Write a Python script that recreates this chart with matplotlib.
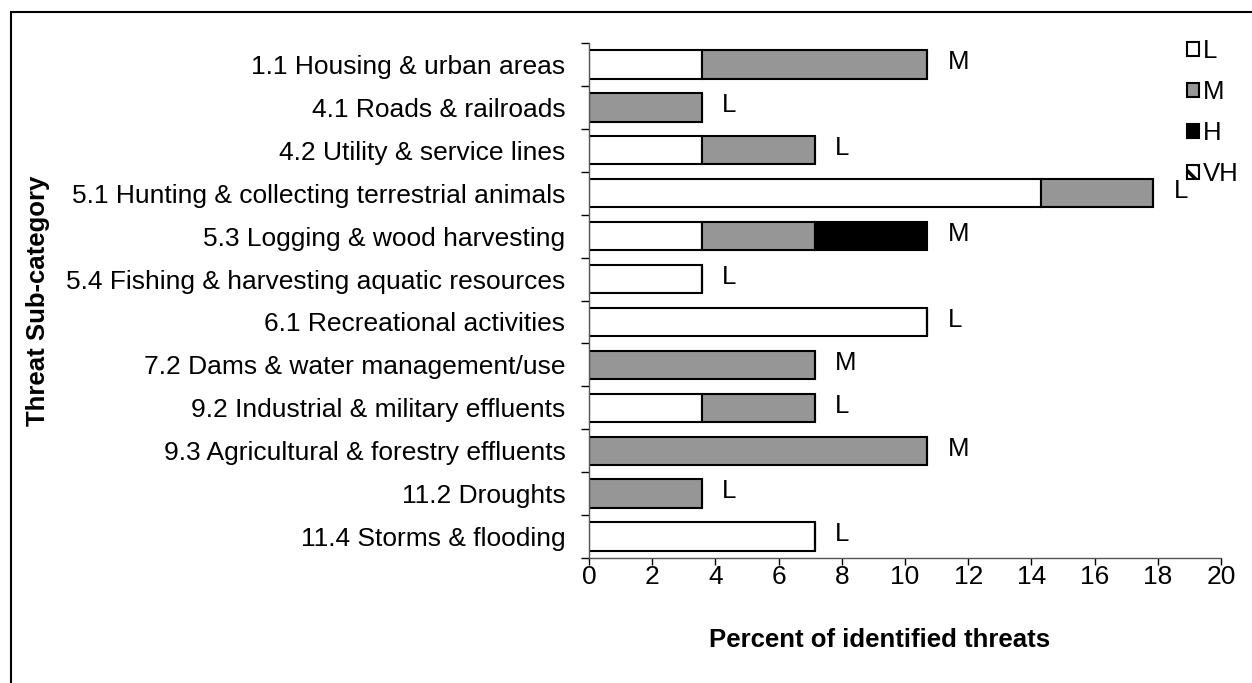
import numpy as np
import matplotlib.pyplot as plt
from matplotlib.patches import Patch, Rectangle

plt.rcParams['font.family'] = ['Liberation Sans', 'DejaVu Sans']
plt.rcParams['hatch.linewidth'] = 2.5

# Threat sub-categories (top to bottom)
categories = ['1.1 Housing & urban areas', '4.1 Roads & railroads',
              '4.2 Utility & service lines',
              '5.1 Hunting & collecting terrestrial animals',
              '5.3 Logging & wood harvesting',
              '5.4 Fishing & harvesting aquatic resources',
              '6.1 Recreational activities',
              '7.2 Dams & water management/use',
              '9.2 Industrial & military effluents',
              '9.3 Agricultural & forestry effluents',
              '11.2 Droughts', '11.4 Storms & flooding']

# percent of identified threats by impact level
low = [3.57, 0, 3.57, 14.29, 3.57, 3.57, 10.71, 0, 3.57, 0, 0, 7.14]
medium = [7.14, 3.57, 3.57, 3.57, 3.57, 0, 0, 7.14, 3.57, 10.71, 3.57, 0]
high = [0, 0, 0, 0, 3.57, 0, 0, 0, 0, 0, 0, 0]
very_high = [0] * 12
overall = ['M', 'L', 'L', 'L', 'M', 'L', 'L', 'M', 'L', 'M', 'L', 'L']

low = np.array(low)
medium = np.array(medium)
high = np.array(high)
very_high = np.array(very_high)

fs = 19
fig = plt.figure(figsize=(12.52, 6.83), dpi=100)
ax = fig.add_axes([589 / 1252, 1 - 558 / 683, (1221 - 589) / 1252, (558 - 43) / 683])

y = np.arange(len(categories))
h = 0.66
kw = dict(height=h, edgecolor='black', linewidth=1.5)
ax.barh(y, low, color='white', **kw)
ax.barh(y, medium, left=low, color='#969696', **kw)
ax.barh(y, high, left=low + medium, color='black', **kw)

totals = low + medium + high + very_high
for yi, t, lab in zip(y, totals, overall):
    ax.text(t + 0.65, yi - 0.05, lab, va='center', ha='left', fontsize=18.5)

ax.set_ylim(len(categories) - 0.5, -0.5)
ax.set_xlim(0, 20)
ax.set_xticks(np.arange(0, 21, 2))
ax.set_yticks(y)
ax.set_yticklabels(categories, fontsize=fs)
ax.set_yticks(np.arange(-0.5, len(categories)), minor=True)
ax.tick_params(axis='y', which='major', length=0, pad=17)
ax.tick_params(axis='y', which='minor', length=6, width=1, direction='out')
ax.tick_params(axis='x', labelsize=fs, length=5, width=1, pad=0)
for s in ['top', 'right']:
    ax.spines[s].set_visible(False)
for s in ['left', 'bottom']:
    ax.spines[s].set_color('#555555')
    ax.spines[s].set_linewidth(1)

ax.set_xlabel('Percent of identified threats', fontsize=18.5, fontweight='bold', labelpad=24)
ax.xaxis.set_label_coords(0.46, -0.135)
ax.set_ylabel('Threat Sub-category', fontsize=18.5, fontweight='bold')
ax.yaxis.set_label_coords(-0.853, 0.5)

handles = [Patch(facecolor='white', edgecolor='black', linewidth=1.5, label='L'),
           Patch(facecolor='#969696', edgecolor='black', linewidth=1.5, label='M'),
           Patch(facecolor='black', edgecolor='black', linewidth=1.5, label='H'),
           Patch(facecolor='white', edgecolor='black', hatch='\\\\', linewidth=1.5, label='VH')]
leg = fig.legend(handles=handles, loc='upper left', bbox_to_anchor=(1177 / 1252, 1 - 29 / 683),
                 frameon=False, fontsize=18.5, handlelength=0.45, handleheight=0.45,
                 handletextpad=0.15, labelspacing=0.66, borderaxespad=0)

# outer frame of the chart area
fig.patches.append(Rectangle((11 / 1252, -0.1), 1.2, 1 - 12 / 683 + 0.1,
                             transform=fig.transFigure, fill=False,
                             edgecolor='black', linewidth=1.5))

fig.savefig('out.png', dpi=100)
